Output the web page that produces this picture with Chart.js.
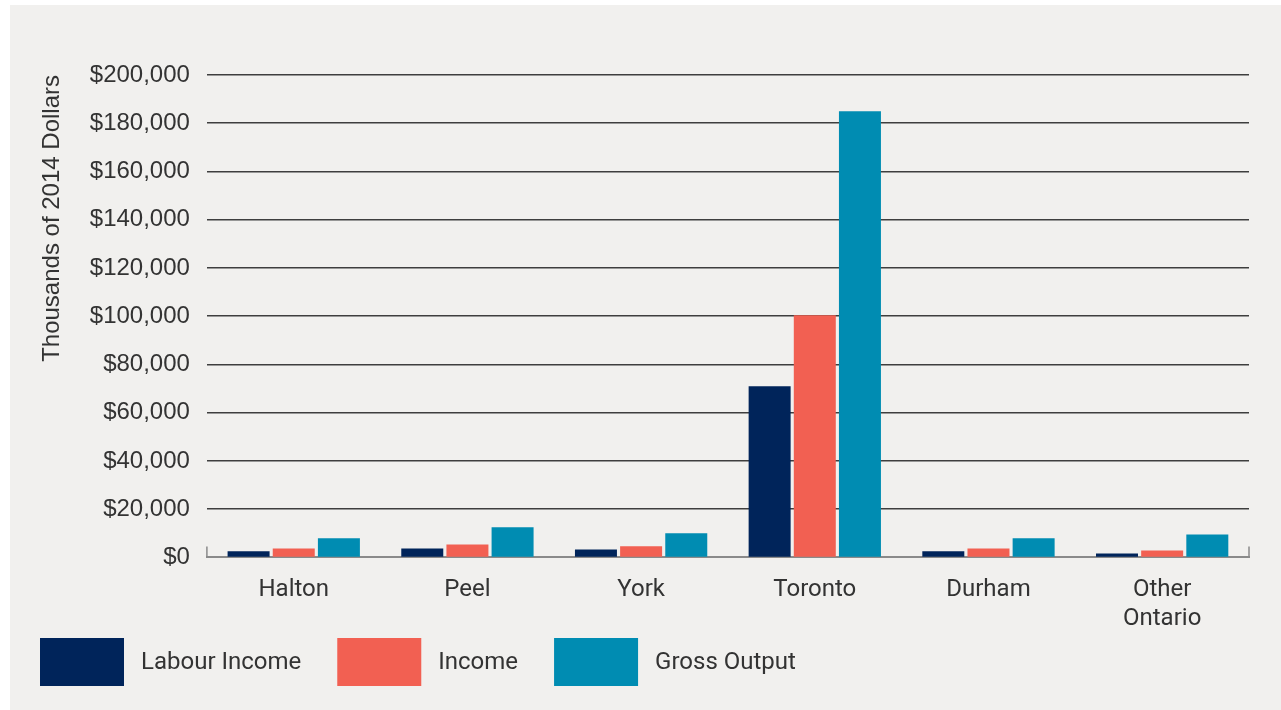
<!DOCTYPE html>
<html>
<head>
<meta charset="utf-8">
<title>Economic impact by region</title>
<script src="https://cdn.jsdelivr.net/npm/chart.js@4.4.1/dist/chart.umd.min.js"></script>
<style>
    html, body { margin: 0; padding: 0; background: #ffffff; }
    #wrap { position: relative; width: 1281px; height: 710px; }
</style>
</head>
<body>
<div id="wrap"><canvas id="impactChart" width="1281" height="710"></canvas></div>
<script>
// Regions and the three measures, thousands of 2014 dollars
const regions = ['Halton', 'Peel', 'York', 'Toronto', 'Durham', ['Other', 'Ontario']];
const labourIncome = [2500, 3700, 3300, 71000, 2500, 1650];
const income = [3700, 5400, 4600, 100400, 3700, 2900];
const grossOutput = [7900, 12450, 10000, 185000, 7900, 9500];

const seriesNames = ['Labour Income', 'Income', 'Gross Output'];
const seriesColors = ['#00245a', '#f26052', '#008cb2'];

const yTicks = [0, 20000, 40000, 60000, 80000, 100000, 120000, 140000, 160000, 180000, 200000];

const textColor = '#333333';
const labelFont = 'Roboto, "Liberation Sans", sans-serif';
const axisFont = '"Liberation Sans", Arial, sans-serif';

// Light panel behind the chart, with a thin white margin at the top and left
const panelBg = {
    id: 'panelBg',
    beforeDraw(chart) {
        const c = chart.ctx;
        c.save();
        c.fillStyle = '#ffffff';
        c.fillRect(0, 0, chart.width, chart.height);
        c.fillStyle = '#f1f0ee';
        c.fillRect(10, 5, chart.width - 10, chart.height - 5);
        c.restore();
    }
};

// Short upward ticks at both ends of the baseline
const endTicks = {
    id: 'endTicks',
    afterDatasetsDraw(chart) {
        const { ctx, chartArea } = chart;
        ctx.save();
        ctx.strokeStyle = '#8a8a8a';
        ctx.lineWidth = 1.5;
        [chartArea.left, chartArea.right].forEach(x => {
            ctx.beginPath();
            ctx.moveTo(x, chartArea.bottom);
            ctx.lineTo(x, chartArea.bottom - 11);
            ctx.stroke();
        });
        ctx.restore();
    }
};

// Legend row under the axis: big swatches followed by the series name
const swatchLegend = {
    id: 'swatchLegend',
    afterDraw(chart) {
        const c = chart.ctx;
        const boxW = 84, boxH = 48, top = 638;
        let x = 40;
        c.save();
        c.font = '24px ' + labelFont;
        c.textBaseline = 'middle';
        chart.data.datasets.forEach(ds => {
            c.fillStyle = ds.backgroundColor;
            c.fillRect(x, top, boxW, boxH);
            c.fillStyle = textColor;
            c.fillText(ds.label, x + boxW + 17, top + boxH / 2 + 1);
            x += boxW + 17 + c.measureText(ds.label).width + 36;
        });
        c.restore();
    }
};

const datasets = [labourIncome, income, grossOutput].map((values, i) => ({
    label: seriesNames[i],
    data: values,
    backgroundColor: seriesColors[i],
    borderWidth: 0,
    categoryPercentage: 0.78,
    barPercentage: 0.93
}));

new Chart(document.getElementById('impactChart'), {
    type: 'bar',
    data: { labels: regions, datasets: datasets },
    plugins: [panelBg, endTicks, swatchLegend],
    options: {
        responsive: false,
        animation: false,
        layout: { padding: { top: 75, right: 32, left: 0, bottom: 67 } },
        plugins: {
            tooltip: { enabled: false },
            legend: { display: false }
        },
        scales: {
            x: {
                grid: { display: false },
                border: { display: true, color: '#8a8a8a', width: 2 },
                ticks: {
                    color: textColor,
                    padding: 10,
                    font: { family: labelFont, size: 24 }
                }
            },
            y: {
                min: 0,
                max: 200000,
                afterBuildTicks(axis) {
                    axis.ticks = yTicks.map(v => ({ value: v }));
                },
                border: { display: false },
                grid: {
                    drawTicks: false,
                    color: ctx => ctx.tick && ctx.tick.value === 0 ? 'rgba(0,0,0,0)' : '#3e3e3e',
                    lineWidth: 1.5
                },
                ticks: {
                    color: textColor,
                    padding: 17,
                    font: { family: axisFont, size: 24 },
                    callback: value => '$' + value.toLocaleString('en-US')
                },
                title: {
                    display: true,
                    text: 'Thousands of 2014 Dollars',
                    color: textColor,
                    align: 'end',
                    padding: { top: 38, bottom: 6 },
                    font: { family: axisFont, size: 24 }
                }
            }
        }
    }
});
</script>
</body>
</html>
